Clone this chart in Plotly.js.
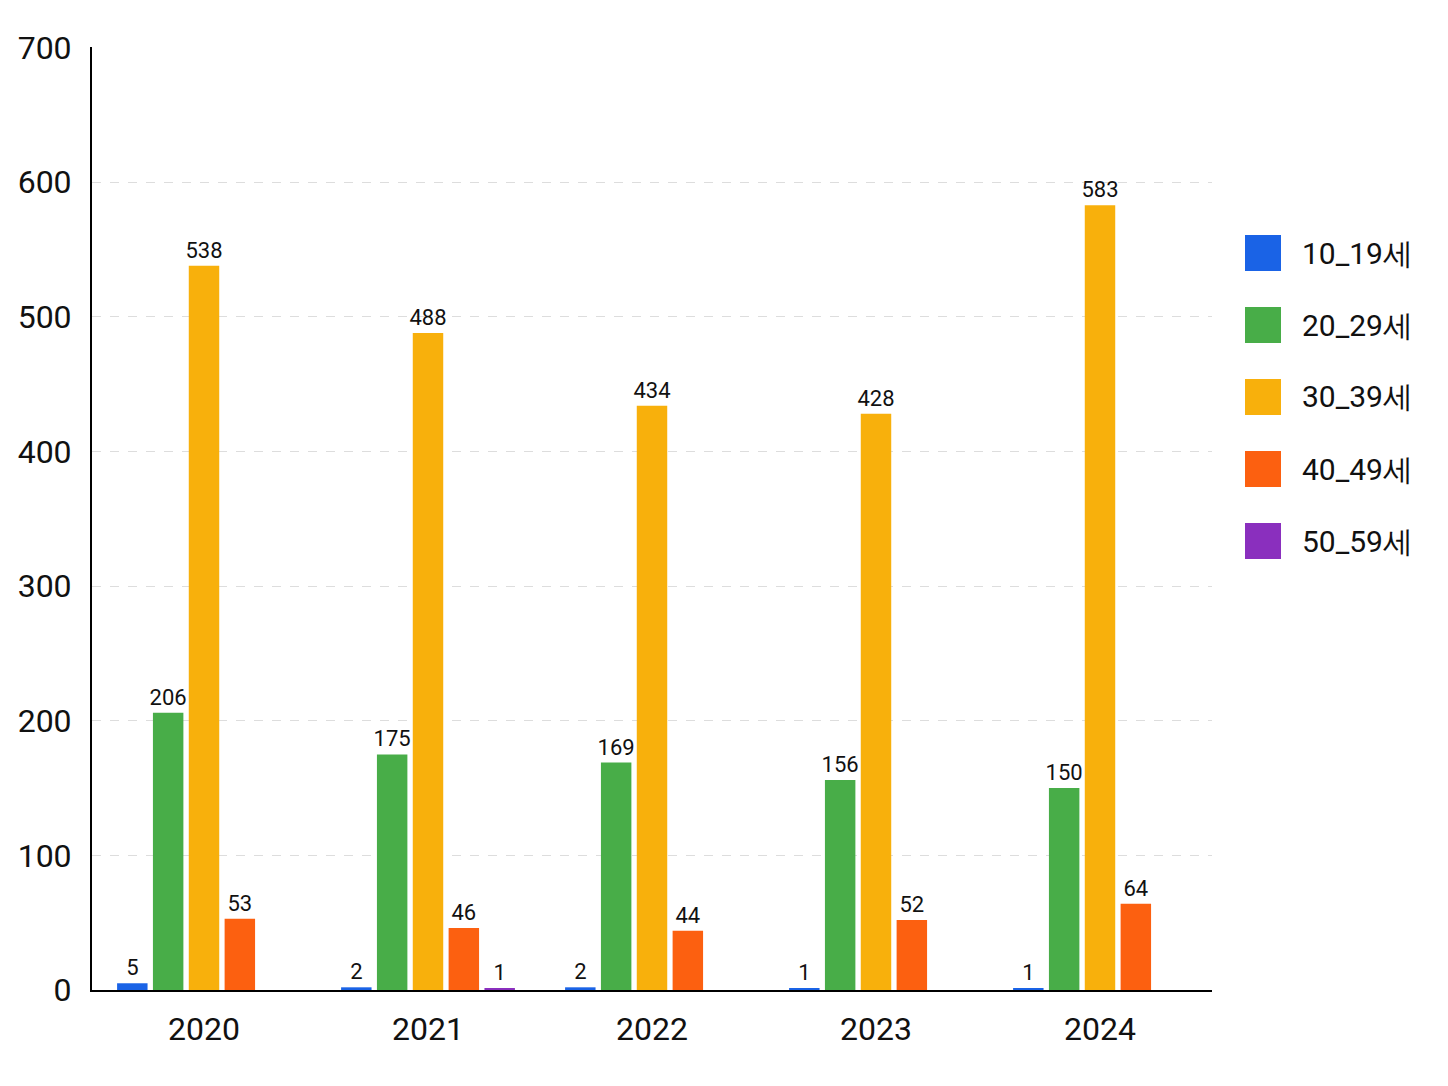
<!DOCTYPE html>
<html><head><meta charset="utf-8">
<script src="https://cdn.plot.ly/plotly-3.0.1.min.js"></script>
<style>body{margin:0;background:#fff}</style></head>
<body><div id="c" style="width:1448px;height:1086px"></div>
<script>
const years = ['2020','2021','2022','2023','2024'];
const seriesNames = ['10_19세','20_29세','30_39세','40_49세','50_59세'];
const v10 = [5,2,2,1,1];
const v20 = [206,175,169,156,150];
const v30 = [538,488,434,428,583];
const v40 = [53,46,44,52,64];
const v50 = [null,1,null,null,null];
const colors = ['#1a63e6','#48ad48','#f8b00c','#fc6010','#8a2fbe'];
const F = '"Liberation Sans Narrow","Roboto","Liberation Sans",sans-serif';
const all = [v10,v20,v30,v40,v50];
const data = all.map((v,i)=>({
  type:'bar', x:years, y:v, name:seriesNames[i], marker:{color:colors[i]},
  text:v.map(d=>d==null?'':String(d)), textposition:'outside', cliponaxis:false,
  constraintext:'none', showlegend:false,
  textfont:{family:F,size:22,color:'#111'}
}));
const shapes=[], annotations=[];
seriesNames.forEach((n,i)=>{
  const top = 235 + i*72;
  shapes.push({type:'rect',xref:'paper',yref:'paper',
    x0:(1245-92)/1120,x1:(1281-92)/1120,
    y0:(990-top-36)/943,y1:(990-top)/943,fillcolor:colors[i],line:{width:0}});
  annotations.push({xref:'paper',yref:'paper',x:(1300-92)/1120,y:(990-top-18)/943,
    xanchor:'left',yanchor:'middle',text:n,showarrow:false,font:{family:F,size:30,color:'#111'}});
});
Plotly.newPlot('c',data,{
  width:1448,height:1086,margin:{l:92,r:236,t:47,b:96},
  paper_bgcolor:'#fff',plot_bgcolor:'#fff',
  bargap:0.2,bargroupgap:0.15,
  font:{family:F,color:'#111'},
  shapes, annotations, showlegend:false,
  xaxis:{showline:true,linecolor:'#000',linewidth:2,tickfont:{size:32,family:F},ticks:'',ticklabelstandoff:10},
  yaxis:{range:[0,700.5],dtick:100,showline:true,linecolor:'#000',linewidth:2,
    gridcolor:'#ddd',griddash:'dash',tickfont:{size:32,family:F},zeroline:false,ticks:'',ticklabelstandoff:12}
},{displayModeBar:false});
</script></body></html>
